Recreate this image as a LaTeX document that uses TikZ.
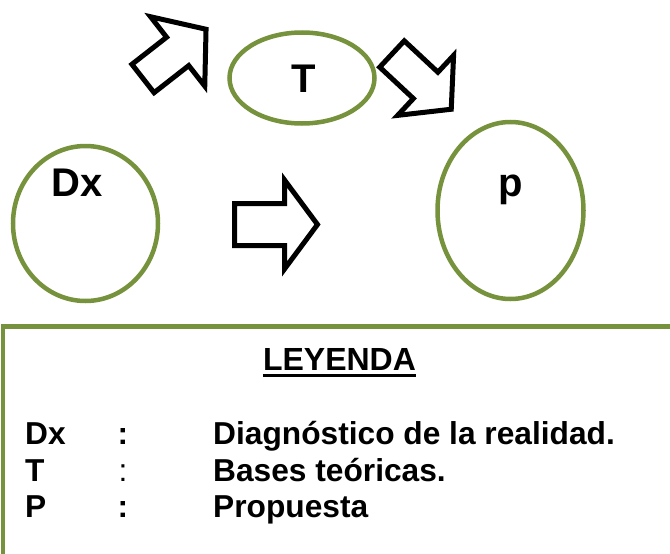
\documentclass[tikz,border=0pt]{standalone}
\usepackage{fontspec}
\setmainfont{Liberation Sans}
\definecolor{olive}{RGB}{118,146,60}
\tikzset{
  x=1pt, y=-1pt,
  bubble/.style={draw=olive, line width=4.5pt},
  blockarrow/.style={draw=black, line width=5pt, line join=miter, fill=white},
  biglabel/.style={font=\fontsize{40}{40}\selectfont\bfseries, anchor=base, inner sep=0pt},
  legtext/.style={font=\fontsize{31.7}{31.7}\selectfont\bfseries, anchor=base west, inner sep=0pt},
  legcolon/.style={font=\fontsize{31.7}{31.7}\selectfont\bfseries, anchor=base, inner sep=0pt},
  legbox/.style={draw=olive, line width=4.5pt},
}
% block arrow: tail midpoint, angle, half shaft width, shaft length, half head width, head length
\newcommand\blockarr[6]{%
  \begin{scope}[shift={#1}, rotate=#2]
    \draw[blockarrow] (0,-#3) -- (#4,-#3) -- (#4,-#5) -- (#4+#6,0) -- (#4,#5) -- (#4,#3) -- (0,#3) -- cycle;
  \end{scope}}
\begin{document}
\begin{tikzpicture}
\useasboundingbox (0,0) rectangle (670,554);
\fill[white] (0,0) rectangle (670,554);
\begin{scope}
\clip (0,0) rectangle (670,554);
% ellipses
\draw[bubble] (85.5,223.5) ellipse [x radius=72.5, y radius=77.5];
\draw[bubble] (302,78) ellipse [x radius=72.5, y radius=45.5];
\draw[bubble] (510.5,210.5) ellipse [x radius=73, y radius=88.5];
\node[biglabel] (dx) at (77,196) {Dx};
\node[biglabel] (t) at (304,92) {T};
\node[biglabel] (p) at (511,196) {p};
% block arrows
\blockarr{(143,78.5)}{38}{18}{44}{44}{36}
\blockarr{(392,54)}{-43}{18}{46}{41}{35}
\blockarr{(234.5,224.5)}{0}{21}{50}{44.5}{33}
% legend box
\draw[legbox] (3,326.5) rectangle (700,600);
\node[font=\fontsize{32}{32}\selectfont\bfseries, anchor=base, inner sep=0pt] (ley) at (339.5,370) {LEYENDA};
\draw[line width=3pt] ([yshift=-5.5pt]ley.base west) -- ([yshift=-5.5pt]ley.base east);
\node[legtext] (k1) at (25,444) {Dx};
\node[legtext] (k2) at (25,481) {T};
\node[legtext] (k3) at (25,517) {P};
\node[legcolon] (c1) at (123,444) {:};
\node[legcolon, font=\fontsize{31.7}{31.7}\selectfont] (c2) at (123,481) {:};
\node[legcolon] (c3) at (123,517) {:};
\node[legtext] (d1) at (213,444) {Diagnóstico de la realidad.};
\node[legtext] (d2) at (213,481) {Bases teóricas.};
\node[legtext] (d3) at (213,517) {Propuesta};
\end{scope}
\end{tikzpicture}
\end{document}
